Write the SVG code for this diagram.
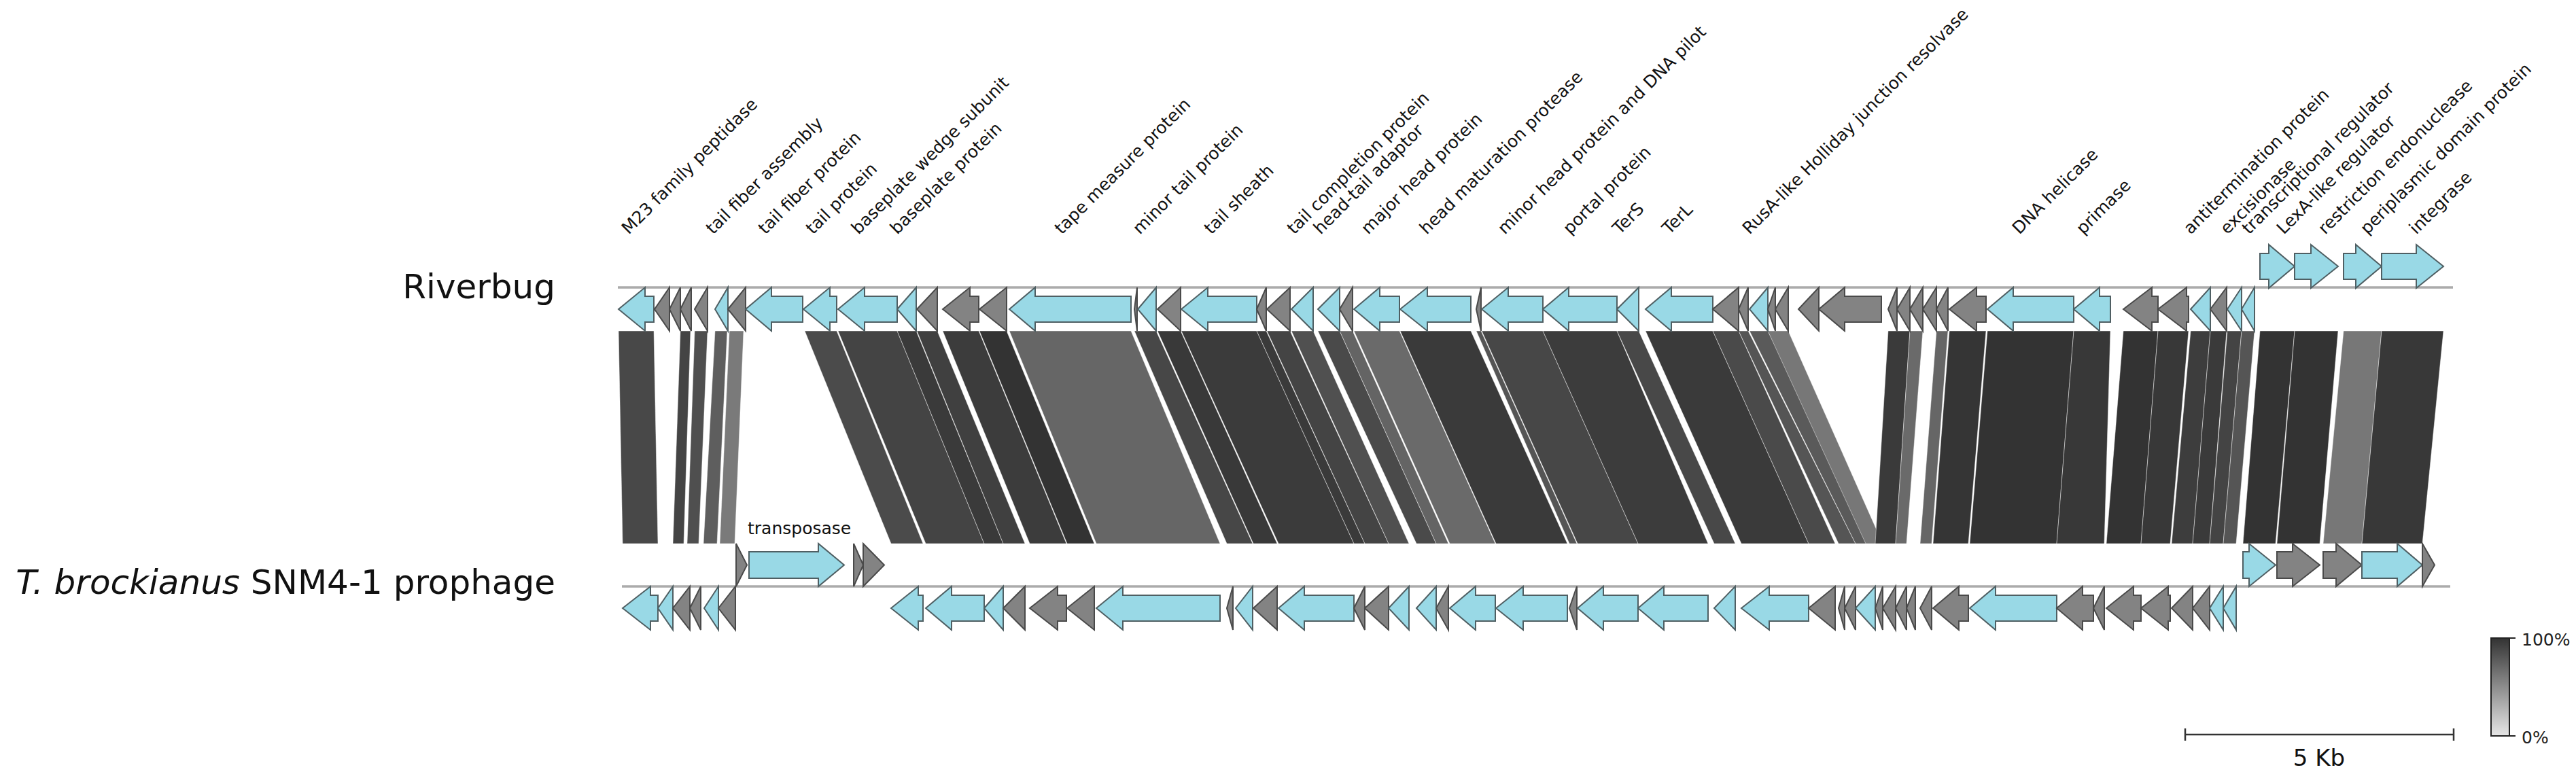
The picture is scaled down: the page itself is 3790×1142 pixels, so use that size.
<svg xmlns="http://www.w3.org/2000/svg" width="3790" height="1142" viewBox="0 0 3790 1142">
<defs>
<style>
.b{fill:#99d9e6;stroke:#4f5f63;stroke-width:2;stroke-linejoin:miter}
.g{fill:#838383;stroke:#4a4a4a;stroke-width:2;stroke-linejoin:miter}
.trk{stroke:#ababab;stroke-width:3.5;fill:none}
.lbl{font-family:"DejaVu Sans",Verdana,sans-serif;font-size:25px;fill:#111}
.name{font-family:"DejaVu Sans",Verdana,sans-serif;font-size:50px;fill:#111}
.band{stroke:#ffffff;stroke-width:1;stroke-opacity:0.45}
</style>
<linearGradient id="leg" x1="0" y1="0" x2="0" y2="1">
<stop offset="0" stop-color="#333"/>
<stop offset="1" stop-color="#e6e6e6"/>
</linearGradient>
</defs>
<rect width="3790" height="1142" fill="#fff"/>

<g id="connectors">
<polygon class="band" fill="#484848" points="910,487 962,487 968,800 916,800"/>
<polygon class="band" fill="#444444" points="1001,487 1016,487 1006,800 990,800"/>
<polygon class="band" fill="#4f4f4f" points="1022,487 1041,487 1028,800 1011,800"/>
<polygon class="band" fill="#5e5e5e" points="1052,487 1070,487 1055,800 1035,800"/>
<polygon class="band" fill="#7a7a7a" points="1073,487 1094,487 1081,800 1059,800"/>
<polygon class="band" fill="#4b4b4b" points="1184,487 1231,487 1358,800 1311,800"/>
<polygon class="band" fill="#444444" points="1233,487 1320,487 1448,800 1362,800"/>
<polygon class="band" fill="#3a3a3a" points="1320,487 1348,487 1476,800 1448,800"/>
<polygon class="band" fill="#404040" points="1349,487 1379,487 1508,800 1476,800"/>
<polygon class="band" fill="#3c3c3c" points="1387,487 1440,487 1569,800 1515,800"/>
<polygon class="band" fill="#333333" points="1441,487 1481,487 1610,800 1570,800"/>
<polygon class="band" fill="#666666" points="1485,487 1664,487 1795,800 1613,800"/>
<polygon class="band" fill="#474747" points="1669,487 1701,487 1843,800 1805,800"/>
<polygon class="band" fill="#393939" points="1703,487 1737,487 1879,800 1844,800"/>
<polygon class="band" fill="#3b3b3b" points="1738,487 1849,487 1992,800 1881,800"/>
<polygon class="band" fill="#3a3a3a" points="1849,487 1863,487 2008,800 1992,800"/>
<polygon class="band" fill="#444444" points="1864,487 1898,487 2043,800 2008,800"/>
<polygon class="band" fill="#505050" points="1900,487 1932,487 2073,800 2043,800"/>
<polygon class="band" fill="#4a4a4a" points="1939,487 1971,487 2113,800 2084,800"/>
<polygon class="band" fill="#646464" points="1971,487 1990,487 2131,800 2113,800"/>
<polygon class="band" fill="#6a6a6a" points="1992,487 2059,487 2200,800 2133,800"/>
<polygon class="band" fill="#3a3a3a" points="2060,487 2164,487 2306,800 2201,800"/>
<polygon class="band" fill="#555555" points="2172,487 2179,487 2320,800 2309,800"/>
<polygon class="band" fill="#474747" points="2180,487 2270,487 2410,800 2321,800"/>
<polygon class="band" fill="#3c3c3c" points="2270,487 2379,487 2513,800 2410,800"/>
<polygon class="band" fill="#484848" points="2379,487 2411,487 2553,800 2522,800"/>
<polygon class="band" fill="#3a3a3a" points="2421,487 2520,487 2661,800 2562,800"/>
<polygon class="band" fill="#4a4a4a" points="2520,487 2558,487 2700,800 2661,800"/>
<polygon class="band" fill="#555555" points="2558,487 2572,487 2730,800 2705,800"/>
<polygon class="band" fill="#5a5a5a" points="2574,487 2601,487 2759,800 2730,800"/>
<polygon class="band" fill="#777777" points="2601,487 2631,487 2770,800 2745,800"/>
<polygon class="band" fill="#3a3a3a" points="2778,487 2810,487 2789,800 2759,800"/>
<polygon class="band" fill="#6a6a6a" points="2810,487 2829,487 2805,800 2789,800"/>
<polygon class="band" fill="#666666" points="2849,487 2866,487 2842,800 2825,800"/>
<polygon class="band" fill="#353535" points="2868,487 2922,487 2896,800 2844,800"/>
<polygon class="band" fill="#333333" points="2924,487 3051,487 3026,800 2898,800"/>
<polygon class="band" fill="#383838" points="3051,487 3105,487 3096,800 3026,800"/>
<polygon class="band" fill="#333333" points="3124,487 3175,487 3150,800 3099,800"/>
<polygon class="band" fill="#383838" points="3175,487 3220,487 3193,800 3150,800"/>
<polygon class="band" fill="#3d3d3d" points="3223,487 3252,487 3226,800 3195,800"/>
<polygon class="band" fill="#3a3a3a" points="3252,487 3276,487 3251,800 3226,800"/>
<polygon class="band" fill="#444444" points="3277,487 3298,487 3271,800 3251,800"/>
<polygon class="band" fill="#555555" points="3298,487 3317,487 3290,800 3271,800"/>
<polygon class="band" fill="#333333" points="3325,487 3376,487 3348,800 3300,800"/>
<polygon class="band" fill="#333333" points="3376,487 3440,487 3413,800 3350,800"/>
<polygon class="band" fill="#777777" points="3448,487 3504,487 3475,800 3418,800"/>
<polygon class="band" fill="#383838" points="3504,487 3595,487 3564,800 3475,800"/>
</g>

<g id="track-riverbug">
<line class="trk" x1="909" y1="423" x2="3609" y2="423"/>
<text class="name" x="817" y="439" text-anchor="end">Riverbug</text>
</g>
<g id="track-tbrockianus">
<line class="trk" x1="915" y1="863" x2="3605" y2="863"/>
<text class="name" x="817" y="874" text-anchor="end"><tspan font-style="italic">T. brockianus</tspan> SNM4-1 prophage</text>
</g>

<g id="riverbug-genes">
<polygon id="R1" class="b" points="910,455 949,423 949,436 962,436 962,474 949,474 949,487"/>
<polygon id="R2" class="g" points="963,455 985,423 985,487"/>
<polygon id="R3" class="g" points="985,455 1001,423 1001,487"/>
<polygon id="R4" class="g" points="1001,455 1017,423 1017,487"/>
<polygon id="R5" class="g" points="1022,455 1041,423 1041,487"/>
<polygon id="R6" class="b" points="1052,455 1071,423 1071,487"/>
<polygon id="R7" class="g" points="1071,455 1097,423 1097,487"/>
<polygon id="R8" class="b" points="1097,455 1135,423 1135,436 1181,436 1181,474 1135,474 1135,487"/>
<polygon id="R9" class="b" points="1182,455 1221,423 1221,436 1231,436 1231,474 1221,474 1221,487"/>
<polygon id="R10" class="b" points="1233,455 1272,423 1272,436 1320,436 1320,474 1272,474 1272,487"/>
<polygon id="R11" class="b" points="1320,455 1348,423 1348,487"/>
<polygon id="R12" class="g" points="1349,455 1379,423 1379,487"/>
<polygon id="R13" class="g" points="1387,455 1427,423 1427,436 1440,436 1440,474 1427,474 1427,487"/>
<polygon id="R14" class="g" points="1441,455 1481,423 1481,487"/>
<polygon id="R15" class="b" points="1485,455 1523,423 1523,436 1664,436 1664,474 1523,474 1523,487"/>
<polygon id="R16" class="g" points="1669,455 1673,423 1673,487"/>
<polygon id="R17" class="b" points="1674,455 1701,423 1701,487"/>
<polygon id="R18" class="g" points="1703,455 1737,423 1737,487"/>
<polygon id="R19" class="b" points="1738,455 1777,423 1777,436 1849,436 1849,474 1777,474 1777,487"/>
<polygon id="R20" class="g" points="1849,455 1863,423 1863,487"/>
<polygon id="R21" class="g" points="1864,455 1898,423 1898,487"/>
<polygon id="R22" class="b" points="1900,455 1932,423 1932,487"/>
<polygon id="R23" class="b" points="1939,455 1971,423 1971,487"/>
<polygon id="R24" class="g" points="1971,455 1990,423 1990,487"/>
<polygon id="R25" class="b" points="1992,455 2030,423 2030,436 2059,436 2059,474 2030,474 2030,487"/>
<polygon id="R26" class="b" points="2060,455 2100,423 2100,436 2164,436 2164,474 2100,474 2100,487"/>
<polygon id="R27" class="g" points="2172,455 2179,423 2179,487"/>
<polygon id="R28" class="b" points="2180,455 2219,423 2219,436 2270,436 2270,474 2219,474 2219,487"/>
<polygon id="R29" class="b" points="2270,455 2308,423 2308,436 2379,436 2379,474 2308,474 2308,487"/>
<polygon id="R30" class="b" points="2379,455 2411,423 2411,487"/>
<polygon id="R31" class="b" points="2421,455 2459,423 2459,436 2520,436 2520,474 2459,474 2459,487"/>
<polygon id="R32" class="g" points="2520,455 2558,423 2558,487"/>
<polygon id="R33" class="g" points="2558,455 2572,423 2572,487"/>
<polygon id="R34" class="b" points="2574,455 2601,423 2601,487"/>
<polygon id="R35" class="g" points="2601,455 2612,423 2612,487"/>
<polygon id="R36" class="g" points="2612,455 2631,423 2631,487"/>
<polygon id="R37" class="g" points="2646,455 2676,423 2676,487"/>
<polygon id="R38" class="g" points="2676,455 2714,423 2714,436 2768,436 2768,474 2714,474 2714,487"/>
<polygon id="R39" class="g" points="2778,455 2791,423 2791,487"/>
<polygon id="R40" class="g" points="2791,455 2810,423 2810,487"/>
<polygon id="R41" class="g" points="2810,455 2829,423 2829,487"/>
<polygon id="R42" class="g" points="2829,455 2849,423 2849,487"/>
<polygon id="R43" class="g" points="2849,455 2866,423 2866,487"/>
<polygon id="R44" class="g" points="2868,455 2908,423 2908,436 2922,436 2922,474 2908,474 2908,487"/>
<polygon id="R45" class="b" points="2924,455 2962,423 2962,436 3051,436 3051,474 2962,474 2962,487"/>
<polygon id="R46" class="b" points="3051,455 3089,423 3089,436 3105,436 3105,474 3089,474 3089,487"/>
<polygon id="R47" class="g" points="3124,455 3166,423 3166,436 3175,436 3175,474 3166,474 3166,487"/>
<polygon id="R48" class="g" points="3175,455 3217,423 3217,436 3220,436 3220,474 3217,474 3217,487"/>
<polygon id="R49" class="b" points="3223,455 3252,423 3252,487"/>
<polygon id="R50" class="g" points="3252,455 3276,423 3276,487"/>
<polygon id="R51" class="b" points="3277,455 3298,423 3298,487"/>
<polygon id="R52" class="b" points="3298,455 3317,423 3317,487"/>
<polygon id="F1" class="b" points="3325,373 3338,373 3338,360 3376,392 3338,424 3338,411 3325,411"/>
<polygon id="F2" class="b" points="3376,373 3400,373 3400,360 3440,392 3400,424 3400,411 3376,411"/>
<polygon id="F3" class="b" points="3448,373 3466,373 3466,360 3504,392 3466,424 3466,411 3448,411"/>
<polygon id="F4" class="b" points="3504,373 3555,373 3555,360 3595,392 3555,424 3555,411 3504,411"/>
</g>

<g id="tbrockianus-genes">
<polygon id="B1" class="b" points="916,895 957,863 957,876 968,876 968,914 957,914 957,927"/>
<polygon id="B2" class="b" points="968,895 990,863 990,927"/>
<polygon id="B3" class="g" points="990,895 1015,863 1015,927"/>
<polygon id="B4" class="g" points="1015,895 1031,863 1031,927"/>
<polygon id="B5" class="b" points="1036,895 1057,863 1057,927"/>
<polygon id="B6" class="g" points="1057,895 1082,863 1082,927"/>
<polygon id="B7" class="b" points="1311,895 1351,863 1351,876 1358,876 1358,914 1351,914 1351,927"/>
<polygon id="B8" class="b" points="1362,895 1400,863 1400,876 1448,876 1448,914 1400,914 1400,927"/>
<polygon id="B9" class="b" points="1448,895 1476,863 1476,927"/>
<polygon id="B10" class="g" points="1476,895 1508,863 1508,927"/>
<polygon id="B11" class="g" points="1515,895 1556,863 1556,876 1569,876 1569,914 1556,914 1556,927"/>
<polygon id="B12" class="g" points="1570,895 1610,863 1610,927"/>
<polygon id="B13" class="b" points="1613,895 1652,863 1652,876 1795,876 1795,914 1652,914 1652,927"/>
<polygon id="B14" class="g" points="1805,895 1814,863 1814,927"/>
<polygon id="B15" class="b" points="1818,895 1843,863 1843,927"/>
<polygon id="B16" class="g" points="1844,895 1879,863 1879,927"/>
<polygon id="B17" class="b" points="1881,895 1919,863 1919,876 1992,876 1992,914 1919,914 1919,927"/>
<polygon id="B18" class="g" points="1992,895 2008,863 2008,927"/>
<polygon id="B19" class="g" points="2008,895 2043,863 2043,927"/>
<polygon id="B20" class="b" points="2043,895 2073,863 2073,927"/>
<polygon id="B21" class="b" points="2084,895 2113,863 2113,927"/>
<polygon id="B22" class="g" points="2113,895 2131,863 2131,927"/>
<polygon id="B23" class="b" points="2133,895 2171,863 2171,876 2200,876 2200,914 2171,914 2171,927"/>
<polygon id="B24" class="b" points="2201,895 2241,863 2241,876 2306,876 2306,914 2241,914 2241,927"/>
<polygon id="B25" class="g" points="2309,895 2320,863 2320,927"/>
<polygon id="B26" class="b" points="2321,895 2359,863 2359,876 2410,876 2410,914 2359,914 2359,927"/>
<polygon id="B27" class="b" points="2410,895 2448,863 2448,876 2513,876 2513,914 2448,914 2448,927"/>
<polygon id="B28" class="b" points="2522,895 2553,863 2553,927"/>
<polygon id="B29" class="b" points="2562,895 2603,863 2603,876 2661,876 2661,914 2603,914 2603,927"/>
<polygon id="B30" class="g" points="2661,895 2700,863 2700,927"/>
<polygon id="B31" class="g" points="2705,895 2714,863 2714,927"/>
<polygon id="B32" class="g" points="2714,895 2730,863 2730,927"/>
<polygon id="B33" class="b" points="2730,895 2759,863 2759,927"/>
<polygon id="B34" class="g" points="2759,895 2770,863 2770,927"/>
<polygon id="B35" class="g" points="2770,895 2789,863 2789,927"/>
<polygon id="B36" class="g" points="2789,895 2805,863 2805,927"/>
<polygon id="B37" class="g" points="2805,895 2818,863 2818,927"/>
<polygon id="B38" class="g" points="2825,895 2842,863 2842,927"/>
<polygon id="B39" class="g" points="2844,895 2882,863 2882,876 2896,876 2896,914 2882,914 2882,927"/>
<polygon id="B40" class="b" points="2898,895 2936,863 2936,876 3026,876 3026,914 2936,914 2936,927"/>
<polygon id="B41" class="g" points="3026,895 3064,863 3064,876 3080,876 3080,914 3064,914 3064,927"/>
<polygon id="B42" class="g" points="3080,895 3096,863 3096,927"/>
<polygon id="B43" class="g" points="3099,895 3139,863 3139,876 3150,876 3150,914 3139,914 3139,927"/>
<polygon id="B44" class="g" points="3150,895 3190,863 3190,876 3193,876 3193,914 3190,914 3190,927"/>
<polygon id="B45" class="g" points="3195,895 3226,863 3226,927"/>
<polygon id="B46" class="g" points="3226,895 3251,863 3251,927"/>
<polygon id="B47" class="b" points="3251,895 3271,863 3271,927"/>
<polygon id="B48" class="b" points="3271,895 3290,863 3290,927"/>
<polygon id="BF1" class="g" points="1083,800 1099,831.5 1083,863"/>
<polygon id="BF2" class="b" points="1102,812 1204,812 1204,800 1242,831.5 1204,863 1204,851 1102,851"/>
<polygon id="BF3" class="g" points="1256,800 1270,831.5 1256,863"/>
<polygon id="BF4" class="g" points="1270,800 1301,831.5 1270,863"/>
<polygon id="BF5" class="b" points="3300,812 3309,812 3309,800 3348,831.5 3309,863 3309,851 3300,851"/>
<polygon id="BF6" class="g" points="3350,812 3373,812 3373,800 3413,831.5 3373,863 3373,851 3350,851"/>
<polygon id="BF7" class="g" points="3418,812 3437,812 3437,800 3475,831.5 3437,863 3437,851 3418,851"/>
<polygon id="BF8" class="b" points="3475,812 3527,812 3527,800 3564,831.5 3527,863 3527,851 3475,851"/>
<polygon id="BF9" class="g" points="3564,800 3582,831.5 3564,863"/>
<text class="lbl" x="1100" y="786">transposase</text>
</g>

<g id="gene-labels">
<text class="lbl" transform="translate(925,346) rotate(-45)">M23 family peptidase</text>
<text class="lbl" transform="translate(1049,346) rotate(-45)">tail fiber assembly</text>
<text class="lbl" transform="translate(1126,346) rotate(-45)">tail fiber protein</text>
<text class="lbl" transform="translate(1196,346) rotate(-45)">tail protein</text>
<text class="lbl" transform="translate(1263,346) rotate(-45)">baseplate wedge subunit</text>
<text class="lbl" transform="translate(1320,346) rotate(-45)">baseplate protein</text>
<text class="lbl" transform="translate(1562,346) rotate(-45)">tape measure protein</text>
<text class="lbl" transform="translate(1677,346) rotate(-45)">minor tail protein</text>
<text class="lbl" transform="translate(1782,346) rotate(-45)">tail sheath</text>
<text class="lbl" transform="translate(1904,346) rotate(-45)">tail completion protein</text>
<text class="lbl" transform="translate(1943,346) rotate(-45)">head-tail adaptor</text>
<text class="lbl" transform="translate(2013,346) rotate(-45)">major head protein</text>
<text class="lbl" transform="translate(2099,346) rotate(-45)">head maturation protease</text>
<text class="lbl" transform="translate(2214,346) rotate(-45)">minor head protein and DNA pilot</text>
<text class="lbl" transform="translate(2310,346) rotate(-45)">portal protein</text>
<text class="lbl" transform="translate(2383,346) rotate(-45)">TerS</text>
<text class="lbl" transform="translate(2456,346) rotate(-45)">TerL</text>
<text class="lbl" transform="translate(2574,346) rotate(-45)">RusA-like Holliday junction resolvase</text>
<text class="lbl" transform="translate(2971,346) rotate(-45)">DNA helicase</text>
<text class="lbl" transform="translate(3065,346) rotate(-45)">primase</text>
<text class="lbl" transform="translate(3223,346) rotate(-45)">antitermination protein</text>
<text class="lbl" transform="translate(3277,346) rotate(-45)">excisionase</text>
<text class="lbl" transform="translate(3309,346) rotate(-45)">transcriptional regulator</text>
<text class="lbl" transform="translate(3360,346) rotate(-45)">LexA-like regulator</text>
<text class="lbl" transform="translate(3421,346) rotate(-45)">restriction endonuclease</text>
<text class="lbl" transform="translate(3483,346) rotate(-45)">periplasmic domain protein</text>
<text class="lbl" transform="translate(3555,346) rotate(-45)">integrase</text>
</g>

<g id="scale-bar">
<line x1="3215" y1="1081" x2="3610" y2="1081" stroke="#333" stroke-width="2.5"/>
<line x1="3215" y1="1072" x2="3215" y2="1090" stroke="#333" stroke-width="2.5"/>
<line x1="3610" y1="1072" x2="3610" y2="1090" stroke="#333" stroke-width="2.5"/>
<text x="3412" y="1127" text-anchor="middle" font-family="DejaVu Sans, Verdana, sans-serif" font-size="34" fill="#111">5 Kb</text>
</g>

<g id="legend">
<rect x="3665" y="939" width="27" height="144" fill="url(#leg)" stroke="#222" stroke-width="2"/>
<line x1="3692" y1="939" x2="3701" y2="939" stroke="#222" stroke-width="2"/>
<line x1="3692" y1="1083" x2="3701" y2="1083" stroke="#222" stroke-width="2"/>
<text x="3710" y="950" font-family="DejaVu Sans, Verdana, sans-serif" font-size="25" fill="#222">100%</text>
<text x="3710" y="1094" font-family="DejaVu Sans, Verdana, sans-serif" font-size="25" fill="#222">0%</text>
</g>
</svg>
